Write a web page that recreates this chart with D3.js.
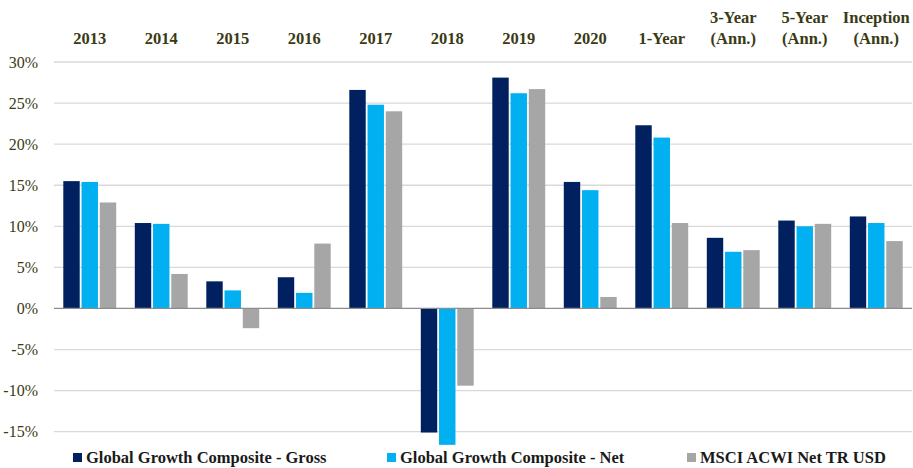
<!DOCTYPE html>
<html>
<head>
<meta charset="utf-8">
<script src="https://cdn.jsdelivr.net/npm/d3@7"></script>
<style>
  body { margin: 0; background: #fff; }
  .ylab text { font-family: "Liberation Serif", "DejaVu Serif", serif !important; }
</style>
</head>
<body>
<div id="chart"></div>
<script>
// categories (label lines) and series values in %
var categories = ["2013", "2014", "2015", "2016", "2017", "2018", "2019", "2020",
                  "1-Year", "3-Year|(Ann.)", "5-Year|(Ann.)", "Inception|(Ann.)"];
var seriesNames = ["Global Growth Composite - Gross", "Global Growth Composite - Net", "MSCI ACWI Net TR USD"];
var gross = [15.5, 10.4, 3.3, 3.8, 26.6, -15.1, 28.1, 15.4, 22.3, 8.6, 10.7, 11.2];
var net   = [15.4, 10.3, 2.2, 1.9, 24.8, -16.6, 26.2, 14.4, 20.8, 6.9, 10.0, 10.4];
var msci  = [12.9, 4.2, -2.4, 7.9, 24.0, -9.4, 26.7, 1.4, 10.4, 7.1, 10.3, 8.2];
var yTicks = [-15, -10, -5, 0, 5, 10, 15, 20, 25, 30];
var colors = ["#002060", "#00b0f0", "#a6a6a6"];

var W = 913, H = 468;
var left = 54, right = 912;
var serif = "Liberation Serif, DejaVu Serif, serif";

var svg = d3.select("#chart").append("svg")
    .attr("width", W).attr("height", H)
    .attr("font-family", serif);

var series = [gross, net, msci];

var x0 = d3.scaleBand()
  .domain(categories)
  .range([left, right])
  .padding(0);

var x1 = d3.scaleBand()
  .domain(d3.range(3))
  .range([x0.bandwidth() * 0.13, x0.bandwidth() * 0.87])
  .paddingInner(0.1);

var y = d3.scaleLinear()
  .domain([-15, 30])
  .range([431.7, 62]);

// gridlines
svg.append("g")
  .selectAll("line")
  .data(yTicks.filter(function(d) { return d !== 0; }))
  .enter().append("line")
    .attr("x1", left).attr("x2", right)
    .attr("y1", function(d) { return y(d); })
    .attr("y2", function(d) { return y(d); })
    .attr("stroke", "#d9d9d9")
    .attr("stroke-width", 1.3);

// y labels (drawn as plain text from the scale)
svg.append("g")
  .attr("class", "ylab")
  .selectAll("text")
  .data(yTicks)
  .enter().append("text")
    .attr("x", left - 16)
    .attr("y", function(d) { return y(d); })
    .attr("dy", "0.35em")
    .attr("text-anchor", "end")
    .attr("font-size", "16px")
    .attr("fill", "#3a3a14")
    .text(function(d) { return d + "%"; });

// bars
series.forEach(function(vals, si) {
  svg.append("g")
    .selectAll("rect")
    .data(vals)
    .enter().append("rect")
      .attr("x", function(d, i) { return x0(categories[i]) + x1(si); })
      .attr("y", function(d) { return y(Math.max(0, d)); })
      .attr("width", x1.bandwidth())
      .attr("height", function(d) { return Math.abs(y(d) - y(0)); })
      .attr("fill", colors[si]);
});

// zero line
svg.append("line")
  .attr("x1", left).attr("x2", right)
  .attr("y1", y(0)).attr("y2", y(0))
  .attr("stroke", "#8c8c8c")
  .attr("stroke-width", 1.3);

// category labels at top
var cat = svg.append("g")
  .selectAll("text")
  .data(categories)
  .enter().append("text")
    .attr("x", function(d) { return x0(d) + x0.bandwidth() / 2; })
    .attr("text-anchor", "middle")
    .attr("font-size", "16.5px")
    .attr("font-weight", "bold")
    .attr("fill", "#3a3a14");
cat.each(function(d) {
  var lines = d.split("|");
  var t = d3.select(this);
  lines.forEach(function(l, i) {
    t.append("tspan")
      .attr("x", x0(d) + x0.bandwidth() / 2)
      .attr("y", 44 - (lines.length - 1 - i) * 21)
      .text(l);
  });
});

// legend
var legendX = [73, 387, 687];
var leg = svg.append("g")
  .selectAll("g")
  .data(seriesNames)
  .enter().append("g")
    .attr("transform", function(d, i) { return "translate(" + legendX[i] + ",0)"; });
leg.append("rect")
  .attr("x", 0).attr("y", 453)
  .attr("width", 9).attr("height", 9)
  .attr("fill", function(d, i) { return colors[i]; });
leg.append("text")
  .attr("x", 13).attr("y", 463)
  .attr("font-size", "16.5px")
  .attr("font-weight", "bold")
  .attr("fill", "#1a1a1a")
  .text(function(d) { return d; });
</script>
</body>
</html>
